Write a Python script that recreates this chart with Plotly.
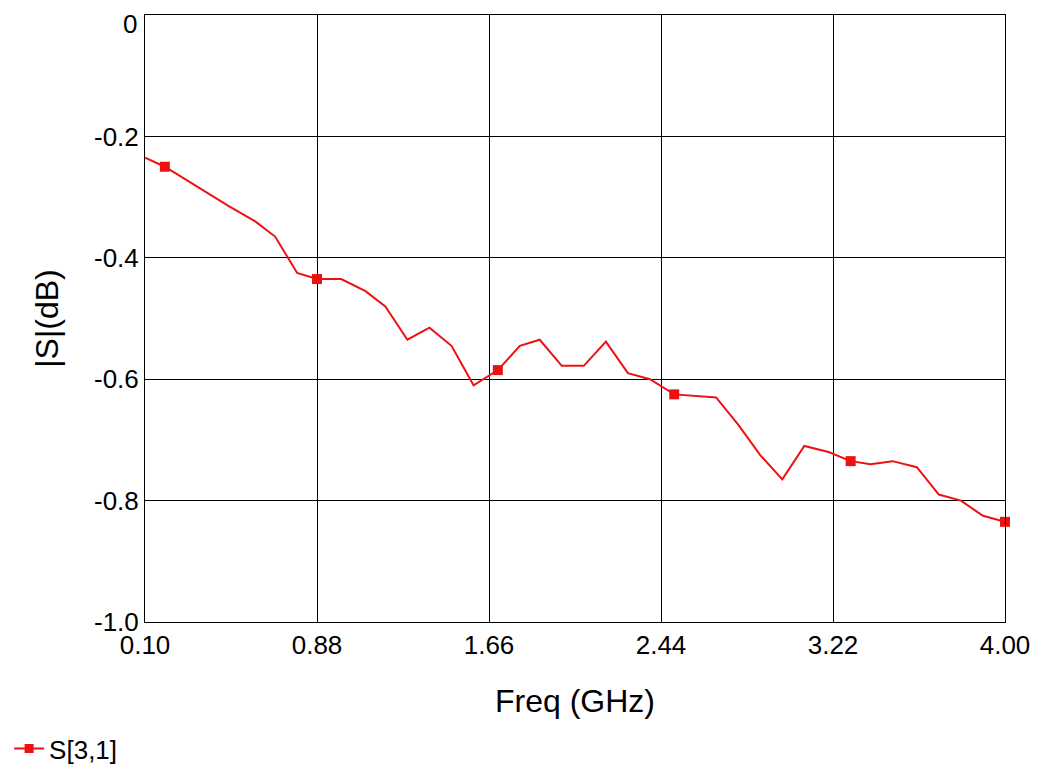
import plotly.graph_objects as go

freq = [0.10,0.19,0.48,0.60,0.69,0.79,0.88,0.99,1.10,1.19,1.29,1.39,1.49,1.59,1.70,1.80,1.89,1.99,2.09,2.19,2.29,2.39,2.50,2.69,2.79,2.89,2.99,3.09,3.20,3.30,3.39,3.49,3.60,3.70,3.80,3.90,4.00]
s31 = [-0.235,-0.25,-0.315,-0.34,-0.365,-0.425,-0.435,-0.435,-0.455,-0.48,-0.535,-0.515,-0.545,-0.61,-0.585,-0.545,-0.535,-0.578,-0.578,-0.538,-0.59,-0.60,-0.625,-0.63,-0.675,-0.725,-0.765,-0.71,-0.72,-0.735,-0.74,-0.735,-0.745,-0.79,-0.80,-0.825,-0.835]
marker_idx = [1,6,14,22,29,36]
xticks = [0.10,0.88,1.66,2.44,3.22,4.00]
yticks = [0,-0.2,-0.4,-0.6,-0.8,-1.0]
ylabels = ["0","-0.2","-0.4","-0.6","-0.8","-1.0"]

red = "#ee1111"
fig = go.Figure()
fig.add_trace(go.Scatter(x=freq, y=s31, mode="lines", line=dict(color=red, width=2), showlegend=False, cliponaxis=False))
fig.add_trace(go.Scatter(x=[freq[i] for i in marker_idx], y=[s31[i] for i in marker_idx], mode="markers",
                         marker=dict(symbol="square", size=10, color=red), showlegend=False, cliponaxis=False))
fig.add_trace(go.Scatter(x=[None], y=[None], mode="lines+markers", line=dict(color=red, width=2),
                         marker=dict(symbol="square", size=9, color=red), name="S[3,1]"))

# top tick label drawn as annotation so it is not dropped at the paper edge
fig.add_annotation(x=0, xref="paper", y=yticks[0], yref="y", text=ylabels[0], showarrow=False,
                   xanchor="right", yanchor="top", xshift=-6, yshift=8, font=dict(size=26))

font = "Liberation Sans, Arial, sans-serif"
fig.update_layout(
    width=1032, height=763, paper_bgcolor="white", plot_bgcolor="white",
    margin=dict(l=137, r=35, t=7, b=149, autoexpand=False),
    font=dict(family=font, size=26, color="black"),
    legend=dict(x=-0.158, y=-0.17, xanchor="left", yanchor="top", font=dict(size=26), bgcolor="rgba(0,0,0,0)"),
    xaxis=dict(range=[0.1, 4.0], tickvals=xticks, tickformat=".2f", showgrid=True, gridcolor="black", gridwidth=1,
               showline=True, linecolor="black", mirror=True, zeroline=False, ticks="", automargin=False,
               title=dict(text="Freq (GHz)", font=dict(size=32), standoff=30)),
    yaxis=dict(range=[-1.0, 0], tickvals=yticks[1:], ticktext=ylabels[1:], showgrid=True, gridcolor="black", gridwidth=1,
               showline=True, linecolor="black", mirror=True, zeroline=False, ticks="", automargin=False,
               title=dict(text="|S|(dB)", font=dict(size=32), standoff=25)),
)
fig.write_html("out.html")
